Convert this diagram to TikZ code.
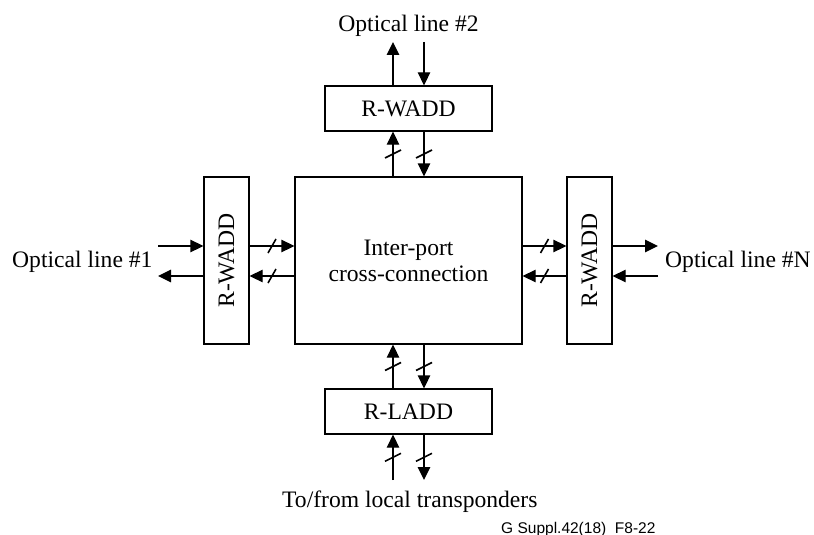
\documentclass[tikz,border=0pt]{standalone}
\usepackage{fontspec}
\setmainfont{Liberation Serif}
\newfontfamily\footfont{Liberation Sans}
\usetikzlibrary{arrows.meta,decorations.markings}
\tikzset{
  box/.style={draw, line width=1.3pt, inner sep=0pt, font=\fontsize{23.6}{26}\selectfont},
  arr/.style={line width=1.3pt, -{Triangle[length=13pt,width=12.5pt]}},
  slashv/.style={postaction={decorate, decoration={markings, mark=at position 0.5 with {\pgftransformresetnontranslations\draw[arrows=-, line width=1.6pt] (-8pt,-4pt) -- (8pt,4pt);}}}},
  slashh/.style={postaction={decorate, decoration={markings, mark=at position 0.5 with {\pgftransformresetnontranslations\draw[arrows=-, line width=1.6pt] (-4pt,-7pt) -- (4pt,7pt);}}}},
  lbl/.style={inner sep=0pt, font=\fontsize{23.6}{26}\selectfont}
}
\begin{document}
\begin{tikzpicture}[x=1pt,y=-1pt]
\useasboundingbox (0,0) rectangle (814,535);
% boxes
\node[box, minimum width=167pt, minimum height=45pt] (top) at (408.5,108.5) {R-WADD};
\node[box, minimum width=167pt, minimum height=45pt] (bot) at (408.5,411.5) {R-LADD};
\node[box, minimum width=227pt, minimum height=167pt, align=center] (cc) at (408.5,260.5) {};
\node[box, minimum width=45pt, minimum height=167pt] (lb) at (226.5,260.5) {\rotatebox{90}{R-WADD}};
\node[box, minimum width=45pt, minimum height=167pt] (rb) at (589.5,260.5) {\rotatebox{90}{R-WADD}};
\node[lbl, anchor=base] (t1) at (408.5,255) {Inter-port};
\node[lbl, anchor=base] (t2) at (408.5,281) {cross-connection};
% guide coordinates
\coordinate (xa) at (393,0);
\coordinate (xb) at (424,0);
\coordinate (ya) at (0,246);
\coordinate (yb) at (0,276);
% free ends
\coordinate (o2a) at (393,42);
\coordinate (o2b) at (424,42);
\coordinate (o1a) at (158,246);
\coordinate (o1b) at (158,276);
\coordinate (oNa) at (658,246);
\coordinate (oNb) at (658,276);
\coordinate (lta) at (393,480);
\coordinate (ltb) at (424,480);
% top
\draw[arr] (top.north -| xa) -- (o2a);
\draw[arr] (o2b) -- (top.north -| xb);
\draw[arr, slashv] (cc.north -| xa) -- (top.south -| xa);
\draw[arr, slashv] (top.south -| xb) -- (cc.north -| xb);
% left
\draw[arr] (o1a) -- (lb.west |- ya);
\draw[arr] (lb.west |- yb) -- (o1b);
\draw[arr, slashh] (lb.east |- ya) -- (cc.west |- ya);
\draw[arr, slashh] (cc.west |- yb) -- (lb.east |- yb);
% right
\draw[arr, slashh] (cc.east |- ya) -- (rb.west |- ya);
\draw[arr, slashh] (rb.west |- yb) -- (cc.east |- yb);
\draw[arr] (rb.east |- ya) -- (oNa);
\draw[arr] (oNb) -- (rb.east |- yb);
% bottom
\draw[arr, slashv] (bot.north -| xa) -- (cc.south -| xa);
\draw[arr, slashv] (cc.south -| xb) -- (bot.north -| xb);
\draw[arr, slashv] (lta) -- (bot.south -| xa);
\draw[arr, slashv] (bot.south -| xb) -- (ltb);
% labels
\node[lbl, anchor=base] (l2) at (408.5,32) {Optical line \#2};
\node[lbl, anchor=base west] (l1) at (12,267.5) {Optical line \#1};
\node[lbl, anchor=base west] (lN) at (665,267.5) {Optical line \#N};
\node[lbl, anchor=base west] (lt) at (282,507) {To/from local transponders};
\node[inner sep=0pt, anchor=base west, font=\footfont\fontsize{15.5}{17}\selectfont] (ft) at (501,533) {G Suppl.42(18)\ \ F8-22};
\end{tikzpicture}
\end{document}
